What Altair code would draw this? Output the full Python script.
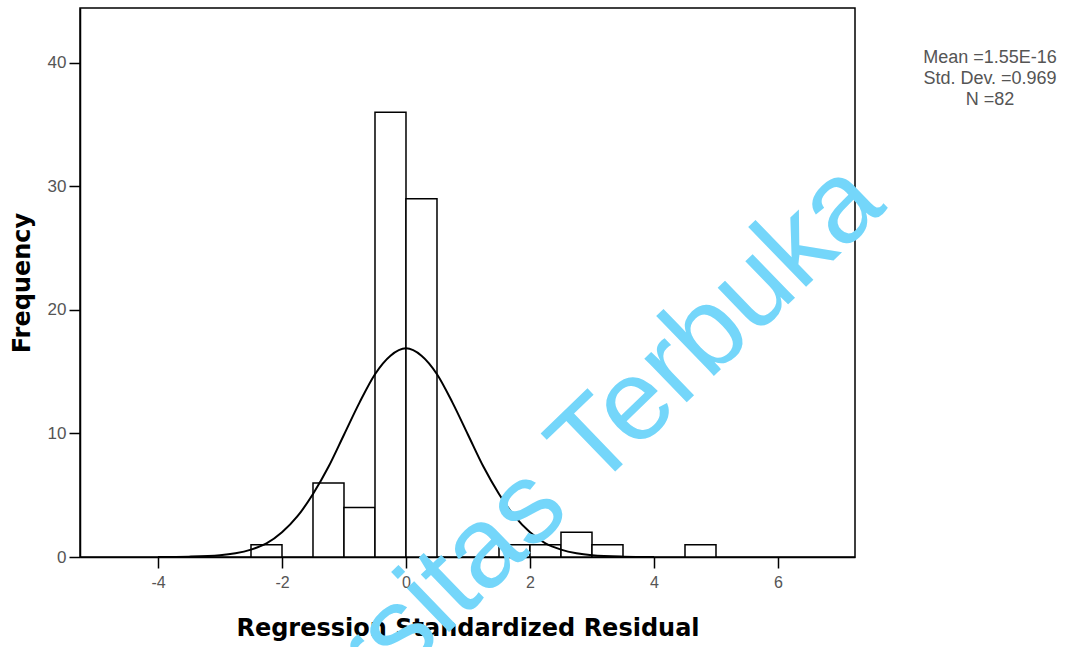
import altair as alt
import pandas as pd

# Histogram bins (width 0.5) and counts
bin_start = [-2.5, -1.5, -1.0, -0.5, 0.0, 1.5, 2.0, 2.5, 3.0, 4.5]
bin_end = [-2.0, -1.0, -0.5, 0.0, 0.5, 2.0, 2.5, 3.0, 3.5, 5.0]
counts = [1, 6, 4, 36, 29, 1, 1, 2, 1, 1]

# Normal curve points
curve_x = [-4.0, -3.5, -3.0, -2.75, -2.5, -2.25, -2.0, -1.75, -1.5, -1.25, -1.0, -0.75, -0.5, -0.25,
           0.0, 0.25, 0.5, 0.75, 1.0, 1.25, 1.5, 1.75, 2.0, 2.25, 2.5, 2.75, 3.0, 3.5, 4.0]
curve_y = [0.0, 0.03, 0.14, 0.3, 0.6, 1.1, 2.0, 3.3, 5.1, 7.3, 9.9, 12.5, 14.8, 16.3,
           16.9, 16.3, 14.8, 12.5, 9.9, 7.3, 5.1, 3.3, 2.0, 1.1, 0.6, 0.3, 0.14, 0.03, 0.0]

x_ticks = [-4, -2, 0, 2, 4, 6]
y_ticks = [0, 10, 20, 30, 40]
stats_lines = ["Mean =1.55E-16", "Std. Dev. =0.969", "N =82"]
watermark = "Universitas Terbuka"

bars_df = pd.DataFrame({"start": bin_start, "end": bin_end, "count": counts})
curve_df = pd.DataFrame({"x": curve_x, "y": curve_y})

W, H = 775, 549

xscale = alt.Scale(domain=[-5.258, 7.242], nice=False, zero=False)
yscale = alt.Scale(domain=[0, 44.45], nice=False)

xaxis = alt.Axis(values=x_ticks, title="Regression Standardized Residual", grid=False,
                 labelExpr="'' + datum.value",
                 tickSize=11, tickColor="black", tickWidth=1.5, domainColor="black", domainWidth=1.5,
                 labelColor="#555555", labelFont="Liberation Sans", labelFontSize=16, labelPadding=6,
                 titleFont="DejaVu Sans", titleFontWeight="bold", titleFontSize=24, titleColor="black",
                 titleX=W / 2, titleY=71, titleBaseline="middle", titleAlign="center")
yaxis = alt.Axis(values=y_ticks, title="Frequency", grid=False,
                 labelExpr="'' + datum.value",
                 tickSize=11, tickColor="black", tickWidth=1.5, domainColor="black", domainWidth=1.5,
                 labelColor="#555555", labelFont="Liberation Sans", labelFontSize=17, labelPadding=3,
                 titleFont="DejaVu Sans", titleFontWeight="bold", titleFontSize=24, titleColor="black",
                 titleX=-58, titleY=H / 2, titleBaseline="middle", titleAlign="center", titleAngle=270)

bars = alt.Chart(bars_df).mark_rect(fill="white", stroke="black", strokeWidth=1.5).encode(
    x=alt.X("start:Q", scale=xscale, axis=xaxis),
    x2="end:Q",
    y=alt.Y("count:Q", scale=yscale, axis=yaxis),
    y2=alt.datum(0),
)

curve = alt.Chart(curve_df).mark_line(color="black", strokeWidth=2, interpolate="monotone").encode(
    x=alt.X("x:Q", scale=xscale),
    y=alt.Y("y:Q", scale=yscale),
)

stats = alt.Chart(pd.DataFrame({"t": [0]})).mark_text(
    text=stats_lines, font="Liberation Sans", fontSize=18, color="#555555",
    align="center", baseline="middle", lineHeight=21,
).encode(x=alt.value(910), y=alt.value(50))

wm = alt.Chart(pd.DataFrame({"t": [0]})).mark_text(
    text=watermark, font="Liberation Sans", fontSize=115, color="#74D6FA",
    align="left", baseline="alphabetic", angle=316,
).encode(x=alt.value(83), y=alt.value(900))

chart = alt.layer(bars, curve, stats, wm).properties(
    width=W, height=H,
    autosize=alt.AutoSizeParams(type="none"),
    padding={"left": 80, "top": 8, "right": 1074 - 80 - W, "bottom": 647 - 8 - H},
    background="white",
).configure_view(stroke="black", strokeWidth=1.5)

chart.save("out.html", embed_options={"renderer": "svg", "actions": False})
